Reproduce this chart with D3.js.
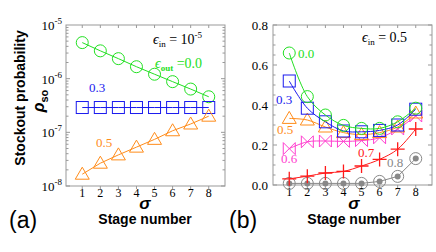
<!DOCTYPE html>
<html>
<head>
<meta charset="utf-8">
<script src="https://cdn.jsdelivr.net/npm/d3@7"></script>
<style>
  body { margin: 0; background: #fff; }
</style>
</head>
<body>
<div id="chart"></div>
<script>
// stage numbers (shared)
const stages = [1, 2, 3, 4, 5, 6, 7, 8];

// panel (a), eps_in = 1e-5
const aOut00 = [4.7e-6, 3.3e-6, 2.36e-6, 1.67e-6, 1.21e-6, 8.8e-7, 6.4e-7, 4.6e-7];
const aOut03 = [2.9e-7, 2.9e-7, 2.9e-7, 2.9e-7, 2.9e-7, 2.9e-7, 2.9e-7, 2.9e-7];
const aOut05 = [1.66e-8, 2.66e-8, 3.8e-8, 5.3e-8, 7.4e-8, 1.07e-7, 1.43e-7, 2.0e-7];
const aTicks = [1e-8, 1e-7, 1e-6, 1e-5];

// panel (b), eps_in = 0.5
const bOut00 = [0.66, 0.442, 0.35, 0.298, 0.283, 0.283, 0.316, 0.384];
const bOut03 = [0.52, 0.384, 0.316, 0.27, 0.266, 0.273, 0.30, 0.379];
const bOut05 = [0.333, 0.325, 0.29, 0.262, 0.252, 0.262, 0.29, 0.36];
const bOut06 = [0.182, 0.216, 0.22, 0.218, 0.222, 0.236, 0.28, 0.345];
const bOut07 = [0.031, 0.044, 0.06, 0.068, 0.095, 0.128, 0.179, 0.28];
const bOut08 = [0.008, 0.008, 0.008, 0.008, 0.008, 0.018, 0.043, 0.132];
const bTicks = [0.0, 0.2, 0.4, 0.6, 0.8];

const colors = { g: "#22e022", b: "#1a1aee", o: "#ff8c1a", m: "#ff3fcf", r: "#ff1a1a", k: "#888888" };
const SERIF = "Liberation Serif, Times New Roman, serif";
const SANS = "Liberation Sans, Arial, sans-serif";

const W = 436, H = 252;
const svg = d3.select("#chart").append("svg").attr("width", W).attr("height", H);

function frame(x, y) {
  const g = svg.append("g");
  const [x0, x1] = x.range(), [y0, y1] = y.range();
  g.append("rect").attr("x", x0).attr("y", y1).attr("width", x1 - x0).attr("height", y0 - y1)
    .attr("fill", "none").attr("stroke", "#999").attr("stroke-width", 1);
  // x ticks bottom (outward) and top (inward)
  stages.forEach(s => {
    g.append("line").attr("x1", x(s)).attr("x2", x(s)).attr("y1", y0).attr("y2", y0 + 3).attr("stroke", "#999");
    g.append("line").attr("x1", x(s)).attr("x2", x(s)).attr("y1", y1).attr("y2", y1 + 3).attr("stroke", "#999");
    g.append("text").attr("x", x(s)).attr("y", y0 + 10.5).attr("text-anchor", "middle")
      .attr("font-family", SERIF).attr("font-size", 12).text(s);
  });
  return g;
}

function marker(g, type, cx, cy, color) {
  if (type === "circle") {
    g.append("circle").attr("cx", cx).attr("cy", cy).attr("r", 6).attr("fill", "none").attr("stroke", color);
  } else if (type === "square") {
    g.append("rect").attr("x", cx - 6).attr("y", cy - 6).attr("width", 12).attr("height", 12)
      .attr("fill", "none").attr("stroke", color);
  } else if (type === "triangle") {
    g.append("path").attr("d", `M${cx},${cy - 7}L${cx + 7},${cy + 5}L${cx - 7},${cy + 5}Z`)
      .attr("fill", "none").attr("stroke", color);
  } else if (type === "bowtie") {
    g.append("path").attr("d", `M${cx - 6},${cy - 6}L${cx + 6},${cy + 6}L${cx + 6},${cy - 6}L${cx - 6},${cy + 6}Z`)
      .attr("fill", "none").attr("stroke", color);
  } else if (type === "plus") {
    g.append("path").attr("d", `M${cx - 7},${cy}L${cx + 7},${cy}M${cx},${cy - 7}L${cx},${cy + 7}`)
      .attr("stroke", color).attr("stroke-width", 1.3);
  } else if (type === "dotcircle") {
    g.append("circle").attr("cx", cx).attr("cy", cy).attr("r", 6).attr("fill", "none").attr("stroke", color);
    g.append("circle").attr("cx", cx).attr("cy", cy).attr("r", 3).attr("fill", color);
  }
}

function series(x, y, vals, type, color, curve) {
  const g = svg.append("g");
  const line = d3.line().x((d, i) => x(stages[i])).y(d => y(d)).curve(curve || d3.curveLinear);
  g.append("path").attr("d", line(vals)).attr("fill", "none").attr("stroke", color).attr("stroke-width", 1);
  vals.forEach((v, i) => marker(g, type, x(stages[i]), y(v), color));
}

function label(x, y, txt, color, size) {
  return svg.append("text").attr("x", x).attr("y", y).attr("fill", color)
    .attr("font-family", SERIF).attr("font-size", size || 13).text(txt);
}

function title(x, y, txt, size) {
  return svg.append("text").attr("x", x).attr("y", y).attr("text-anchor", "middle")
    .attr("font-family", SANS).attr("font-weight", "bold").attr("font-size", size).text(txt);
}

// ---------- panel (a)
const xa = d3.scaleLinear().domain([0.1, 8.9]).range([66, 225]);
const ya = d3.scaleLog().domain([1e-8, 1e-5]).range([186, 25]);
const ga = frame(xa, ya);
// log ticks on left and right (inward)
for (let e = -8; e < -5; e++) {
  for (let m = 1; m < 10; m++) {
    const v = m * Math.pow(10, e), len = m === 1 ? 4 : 2.5;
    ga.append("line").attr("x1", 66).attr("x2", 66 + len).attr("y1", ya(v)).attr("y2", ya(v)).attr("stroke", "#999");
    ga.append("line").attr("x1", 225).attr("x2", 225 - len).attr("y1", ya(v)).attr("y2", ya(v)).attr("stroke", "#999");
  }
}
aTicks.forEach(v => {
  const t = ga.append("text").attr("x", 62).attr("y", ya(v) + 5).attr("text-anchor", "end")
    .attr("font-family", SERIF).attr("font-size", 13);
  t.append("tspan").text("10");
  t.append("tspan").attr("dy", -6).attr("font-size", 9).text(String(Math.round(Math.log10(v))));
});
series(xa, ya, aOut00, "circle", colors.g);
series(xa, ya, aOut03, "square", colors.b);
series(xa, ya, aOut05, "triangle", colors.o);

const ein = label(153, 44, "", "#000", 14);
ein.append("tspan").attr("font-style", "italic").text("\u03f5");
ein.append("tspan").attr("font-size", 9).attr("dy", 3).text("in");
ein.append("tspan").attr("dy", -3).text(" = 10");
ein.append("tspan").attr("font-size", 9).attr("dy", -6).text("-5");
const eout = label(155, 68, "", colors.g, 14);
eout.append("tspan").attr("font-style", "italic").text("\u03f5");
eout.append("tspan").attr("font-size", 9).attr("dy", 3).attr("font-weight", "bold").text("out");
eout.append("tspan").attr("dy", -3).text(" =0.0");
label(89, 92, "0.3", colors.b);
label(96, 147, "0.5", colors.o);

// axis titles (a)
svg.append("text").attr("transform", "translate(25,98) rotate(-90)").attr("text-anchor", "middle")
  .attr("font-family", SANS).attr("font-weight", "bold").attr("font-size", 14).text("Stockout probability");
const rho = svg.append("text").attr("transform", "translate(44,101) rotate(-90)").attr("text-anchor", "middle")
  .attr("font-family", SANS).attr("font-weight", "bold").attr("font-size", 16);
rho.append("tspan").attr("font-style", "italic").text("\u03c1");
rho.append("tspan").attr("font-size", 11).attr("dy", 4).text("so");
title(145, 208.5, "\u03c3", 17).attr("font-style", "italic");
title(145, 224, "Stage number", 14);
svg.append("text").attr("x", 9).attr("y", 228).attr("font-size", 23).attr("font-family", SANS).text("(a)");

// ---------- panel (b)
const xb = d3.scaleLinear().domain([0.1, 8.9]).range([273, 432]);
const yb = d3.scaleLinear().domain([0, 0.8]).range([185, 25]);
const gb = frame(xb, yb);
d3.range(0, 0.801, 0.05).forEach((v, i) => {
  const len = i % 4 === 0 ? 4 : 2.5;
  gb.append("line").attr("x1", 273).attr("x2", 273 + len).attr("y1", yb(v)).attr("y2", yb(v)).attr("stroke", "#999");
  gb.append("line").attr("x1", 432).attr("x2", 432 - len).attr("y1", yb(v)).attr("y2", yb(v)).attr("stroke", "#999");
});
bTicks.forEach(v => {
  gb.append("text").attr("x", 268).attr("y", yb(v) + 4.5).attr("text-anchor", "end")
    .attr("font-family", SERIF).attr("font-size", 13).text(v.toFixed(1));
});
series(xb, yb, bOut08, "dotcircle", colors.k);
series(xb, yb, bOut07, "plus", colors.r, d3.curveCatmullRom);
series(xb, yb, bOut06, "bowtie", colors.m, d3.curveCatmullRom);
series(xb, yb, bOut05, "triangle", colors.o, d3.curveCatmullRom);
series(xb, yb, bOut03, "square", colors.b, d3.curveCatmullRom);
series(xb, yb, bOut00, "circle", colors.g, d3.curveCatmullRom);

const ein2 = label(362, 42, "", "#000", 14);
ein2.append("tspan").attr("font-style", "italic").text("\u03f5");
ein2.append("tspan").attr("font-size", 9).attr("dy", 3).text("in");
ein2.append("tspan").attr("dy", -3).text(" = 0.5");
label(298, 58, "0.0", colors.g);
label(276, 104, "0.3", colors.b);
label(277, 134, "0.5", colors.o);
label(281, 163, "0.6", colors.m);
label(358, 157, "0.7", colors.r);
label(387, 167, "0.8", colors.k);

title(354, 208.5, "\u03c3", 17).attr("font-style", "italic");
title(354, 224, "Stage number", 14);
svg.append("text").attr("x", 229).attr("y", 228).attr("font-size", 23).attr("font-family", SANS).text("(b)");
</script>
</body>
</html>
